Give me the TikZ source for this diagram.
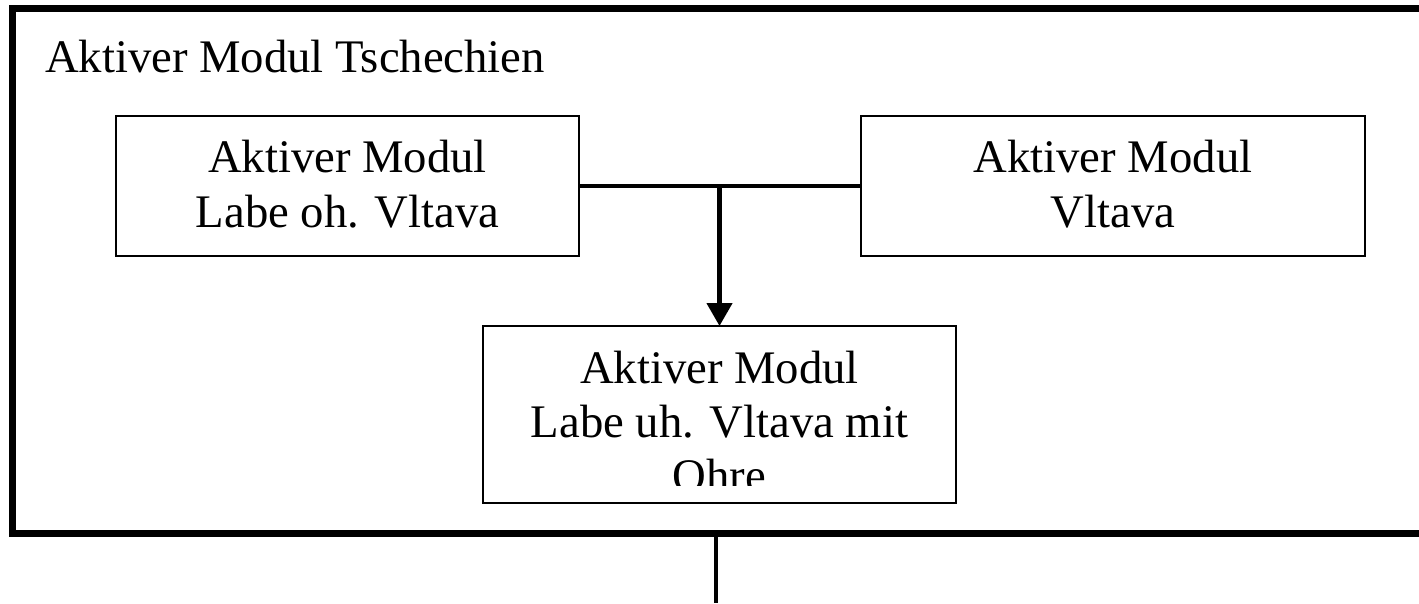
\documentclass[tikz,border=0pt]{standalone}
\usepackage{fontspec}
\setmainfont{Liberation Serif}
\usetikzlibrary{arrows.meta}
\begin{document}
\begin{tikzpicture}[x=1pt,y=-1pt,
  every node/.style={inner sep=0pt, outer sep=0pt},
  txt/.style={font=\fontsize{46.7}{55}\selectfont},
  modbox/.style={draw, line width=2pt, align=center, txt, text depth=5pt},
  frameline/.style={draw, line width=7pt},
  link/.style={line width=3.5pt},
  flow/.style={line width=4.5pt, -{Triangle[width=25pt,length=23pt]}},
  outlink/.style={line width=3.5pt}]
\useasboundingbox (0,0) rectangle (1419,603);
\clip (0,0) rectangle (1419,603);
\node[frameline, minimum width=1418pt, minimum height=524.5pt] (frame) at (721,270.75) {};
\node[txt, anchor=base west] (title) at (45,72) {Aktiver Modul Tschechien};
\node[modbox, minimum width=463pt, minimum height=140pt] (A) at (347.5,186) {Aktiver Modul\\Labe oh. Vltava};
\node[modbox, minimum width=504pt, minimum height=140pt] (B) at (1113,186) {Aktiver Modul\\Vltava};
\node[draw, line width=2pt, minimum width=473pt, minimum height=177pt] (C) at (719.5,414.5) {};
\begin{scope}
  \clip (C.north west) rectangle (C.east |- 0,485);
  \node[font=\fontsize{46.7}{54}\selectfont, align=center, anchor=base] (Ctext) at (719.5,491) {Aktiver Modul\\Labe uh. Vltava mit\\Ohre};
\end{scope}
\draw[link] (A.east) -- (B.west);
\draw[flow] (A.east -| C.north) -- (C.north);
\coordinate (outend) at (716,603);
\draw[outlink] (frame.south -| outend) -- (outend);
\end{tikzpicture}
\end{document}
